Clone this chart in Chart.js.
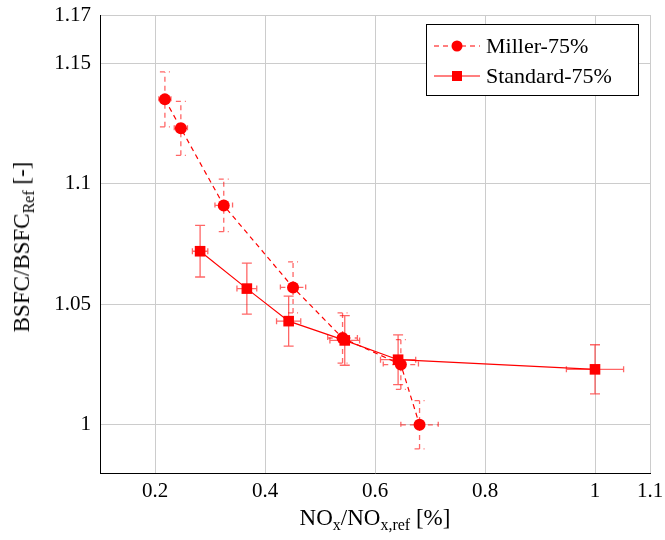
<!DOCTYPE html>
<html>
<head>
<meta charset="utf-8">
<script src="https://cdn.jsdelivr.net/npm/chart.js@4.4.0/dist/chart.umd.min.js"></script>
<style>
  body { margin: 0; background: #fff; }
  #wrap { position: relative; width: 665px; height: 540px; }
  .axlabel { position: absolute; font-family: "Liberation Serif", serif; font-size: 23px; color: #000; white-space: nowrap; }
  .axlabel sub { font-size: 16px; vertical-align: -5px; line-height: 0; }
  #xlabel { left: 0; width: 750px; top: 505px; text-align: center; }
  #ylabel { left: 22px; top: 247px; transform: translate(-50%, -50%) rotate(-90deg); }
</style>
</head>
<body>
<div id="wrap">
  <canvas id="chart" width="665" height="540"></canvas>
  <div id="xlabel" class="axlabel">NO<sub>x</sub>/NO<sub>x,ref</sub> [%]</div>
  <div id="ylabel" class="axlabel">BSFC/BSFC<sub>Ref</sub> [-]</div>
</div>
<script>
// values
const millerX = [0.218, 0.247, 0.325, 0.451, 0.541, 0.647, 0.681];
const millerY = [1.135, 1.123, 1.091, 1.057, 1.036, 1.025, 1.000];
const millerXErr = [0.011, 0.012, 0.016, 0.023, 0.027, 0.032, 0.034];
const millerYErr = [0.0114, 0.0112, 0.0109, 0.0106, 0.0104, 0.0103, 0.0100];

const standardX = [0.282, 0.367, 0.443, 0.545, 0.642, 1.000];
const standardY = [1.072, 1.0565, 1.043, 1.035, 1.027, 1.023];
const standardXErr = [0.014, 0.018, 0.022, 0.027, 0.032, 0.052];
const standardYErr = [0.0107, 0.0106, 0.0104, 0.0103, 0.0103, 0.0102];

const xTicks = [0.2, 0.4, 0.6, 0.8, 1, 1.1];
const yTicks = [1, 1.05, 1.1, 1.15, 1.17];

const seriesNames = ['Miller-75%', 'Standard-75%'];

const FONT = '"Liberation Serif", serif';
const RED = '#ff0000';

function points(xs, ys) {
  return xs.map((x, i) => ({ x: x, y: ys[i] }));
}

// error bars drawn under the markers
const errorBars = {
  id: 'errorBars',
  beforeDatasetsDraw(chart) {
    const ctx = chart.ctx;
    const xs = chart.scales.x, ys = chart.scales.y;
    chart.data.datasets.forEach((ds, di) => {
      ctx.save();
      ctx.strokeStyle = 'rgba(255,0,0,0.6)';
      ctx.lineWidth = 1.3;
      ctx.setLineDash(ds.borderDash || []);
      ds.data.forEach((p, i) => {
        const px = xs.getPixelForValue(p.x);
        const py = ys.getPixelForValue(p.y);
        const y0 = ys.getPixelForValue(p.y - ds.yErr[i]);
        const y1 = ys.getPixelForValue(p.y + ds.yErr[i]);
        const x0 = xs.getPixelForValue(p.x - ds.xErr[i]);
        const x1 = xs.getPixelForValue(p.x + ds.xErr[i]);
        ctx.beginPath();
        ctx.moveTo(px, y0); ctx.lineTo(px, y1);
        ctx.moveTo(px - 5, y0); ctx.lineTo(px + 5, y0);
        ctx.moveTo(px - 5, y1); ctx.lineTo(px + 5, y1);
        ctx.moveTo(x0, py); ctx.lineTo(x1, py);
        ctx.moveTo(x0, py - 3); ctx.lineTo(x0, py + 3);
        ctx.moveTo(x1, py - 3); ctx.lineTo(x1, py + 3);
        ctx.stroke();
      });
      ctx.restore();
    });
  }
};

// pgfplots-like legend box
const boxLegend = {
  id: 'boxLegend',
  afterDraw(chart) {
    const ctx = chart.ctx;
    const left = 426, top = 24, w = 212, h = 71;
    ctx.save();
    ctx.fillStyle = '#fff';
    ctx.fillRect(left, top, w, h);
    ctx.strokeStyle = '#000';
    ctx.lineWidth = 1;
    ctx.strokeRect(left + 0.5, top + 0.5, w, h);
    chart.data.datasets.forEach((ds, i) => {
      const cy = top + 22 + i * 30;
      ctx.strokeStyle = RED;
      ctx.lineWidth = 1.2;
      ctx.setLineDash(ds.borderDash || []);
      ctx.beginPath();
      ctx.moveTo(434, cy); ctx.lineTo(480, cy);
      ctx.stroke();
      ctx.setLineDash([]);
      ctx.fillStyle = RED;
      if (ds.pointStyle === 'circle') {
        ctx.beginPath();
        ctx.arc(457, cy, 5.5, 0, Math.PI * 2);
        ctx.fill();
      } else {
        ctx.fillRect(457 - 5, cy - 5, 10, 10);
      }
      ctx.fillStyle = '#000';
      ctx.font = '22px ' + FONT;
      ctx.textBaseline = 'middle';
      ctx.textAlign = 'left';
      ctx.fillText(seriesNames[i], 486, cy + 1);
    });
    ctx.restore();
  }
};

new Chart(document.getElementById('chart').getContext('2d'), {
  type: 'scatter',
  data: {
    datasets: [{
      label: seriesNames[0],
      data: points(millerX, millerY),
      xErr: millerXErr,
      yErr: millerYErr,
      showLine: true,
      borderColor: RED,
      backgroundColor: RED,
      borderWidth: 1.2,
      borderDash: [5, 4],
      pointStyle: 'circle',
      pointRadius: 6,
      pointBorderWidth: 0
    }, {
      label: seriesNames[1],
      data: points(standardX, standardY),
      xErr: standardXErr,
      yErr: standardYErr,
      showLine: true,
      borderColor: RED,
      backgroundColor: RED,
      borderWidth: 1.2,
      pointStyle: 'rect',
      pointRadius: 7.5,
      pointBorderWidth: 0
    }]
  },
  options: {
    responsive: false,
    animation: false,
    layout: { padding: { top: 15, right: 15, left: 0, bottom: 0 } },
    plugins: {
      legend: { display: false },
      tooltip: { enabled: false }
    },
    scales: {
      x: {
        type: 'linear',
        min: 0.1,
        max: 1.1,
        afterBuildTicks: s => { s.ticks = xTicks.map(v => ({ value: v })); },
        afterFit: s => { s.height = 67; s.paddingLeft = 0; s.paddingRight = 0; },
        grid: { color: '#cccccc', drawTicks: false },
        border: { color: '#000', width: 1 },
        ticks: {
          padding: 6,
          maxRotation: 0,
          autoSkip: false,
          color: '#000',
          font: { family: FONT, size: 21 },
          callback: v => String(v)
        }
      },
      y: {
        type: 'linear',
        min: 0.98,
        max: 1.17,
        afterBuildTicks: s => { s.ticks = yTicks.map(v => ({ value: v })); },
        afterFit: s => { s.width = 100; s.paddingTop = 0; s.paddingBottom = 0; },
        grid: { color: '#cccccc', drawTicks: false },
        border: { color: '#000', width: 1 },
        ticks: {
          padding: 9,
          autoSkip: false,
          color: '#000',
          font: { family: FONT, size: 21 },
          callback: v => String(v)
        }
      }
    }
  },
  plugins: [errorBars, boxLegend]
});
</script>
</body>
</html>
